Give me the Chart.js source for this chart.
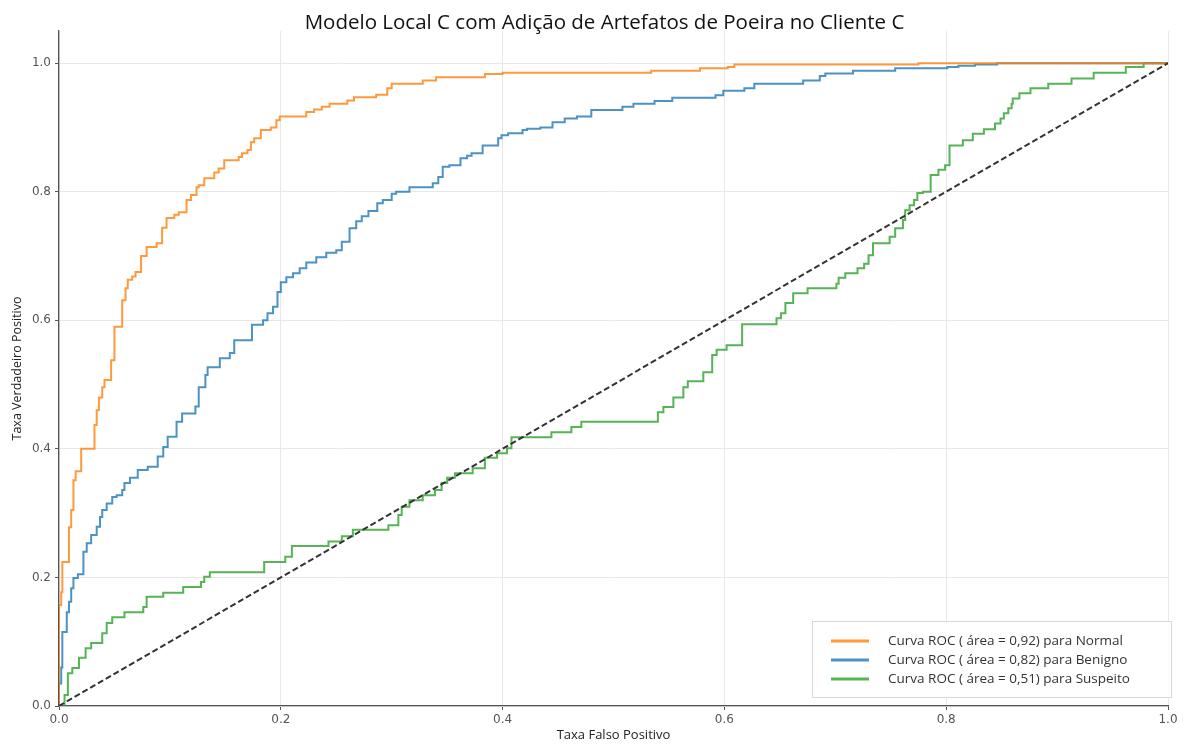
<!DOCTYPE html>
<html lang="pt">
<head>
    <meta charset="UTF-8">
    <title>Curvas ROC - Modelo Local C</title>
    <script src="https://cdn.jsdelivr.net/npm/chart.js"></script>
    <style>
        html, body { margin: 0; padding: 0; background: #fff; }
        #wrap { width: 1188px; height: 745px; }
    </style>
</head>
<body>
<div id="wrap"><canvas id="rocChart" width="1188" height="745"></canvas></div>

<script>
    const chartTitle = 'Modelo Local C com Adição de Artefatos de Poeira no Cliente C';
    const xTitle = 'Taxa Falso Positivo';
    const yTitle = 'Taxa Verdadeiro Positivo';
    const tickValues = [0, 0.2, 0.4, 0.6, 0.8, 1.0];

    const seriesLabels = [
        'Curva ROC ( área = 0,92) para Normal',
        'Curva ROC ( área = 0,82) para Benigno',
        'Curva ROC ( área = 0,51) para Suspeito'
    ];

    // pontos (fpr, tpr) onde cada degrau sobe
    const normalFpr = [0, 0, 0.002, 0.003, 0.009, 0.011, 0.013, 0.015, 0.020, 0.032, 0.034, 0.036, 0.039, 0.041, 0.047, 0.050, 0.057, 0.060, 0.062, 0.066, 0.069, 0.074, 0.079, 0.088, 0.093, 0.097, 0.104, 0.108, 0.115, 0.119, 0.124, 0.126, 0.131, 0.140, 0.144, 0.149, 0.162, 0.165, 0.170, 0.173, 0.176, 0.182, 0.191, 0.196, 0.199, 0.223, 0.230, 0.237, 0.244, 0.260, 0.266, 0.286, 0.296, 0.300, 0.328, 0.340, 0.384, 0.400, 0.534, 0.578, 0.603, 0.609, 0.775, 1];
    const normalTpr = [0, 0.157, 0.177, 0.224, 0.278, 0.305, 0.351, 0.365, 0.400, 0.437, 0.460, 0.480, 0.496, 0.507, 0.538, 0.590, 0.631, 0.650, 0.663, 0.668, 0.675, 0.700, 0.714, 0.720, 0.744, 0.759, 0.764, 0.768, 0.787, 0.795, 0.807, 0.810, 0.821, 0.830, 0.836, 0.849, 0.854, 0.860, 0.865, 0.877, 0.883, 0.896, 0.900, 0.911, 0.917, 0.924, 0.928, 0.932, 0.937, 0.942, 0.947, 0.951, 0.961, 0.968, 0.973, 0.978, 0.983, 0.985, 0.988, 0.992, 0.994, 0.998, 1.0, 1.0];

    const benignoFpr = [0, 0, 0.002, 0.003, 0.007, 0.009, 0.011, 0.013, 0.017, 0.022, 0.025, 0.029, 0.034, 0.037, 0.039, 0.043, 0.048, 0.052, 0.057, 0.059, 0.064, 0.071, 0.080, 0.089, 0.094, 0.098, 0.106, 0.111, 0.123, 0.126, 0.132, 0.134, 0.145, 0.154, 0.158, 0.174, 0.184, 0.188, 0.193, 0.197, 0.200, 0.205, 0.211, 0.217, 0.223, 0.232, 0.241, 0.250, 0.255, 0.262, 0.268, 0.273, 0.279, 0.287, 0.292, 0.300, 0.304, 0.316, 0.337, 0.342, 0.346, 0.352, 0.362, 0.368, 0.372, 0.382, 0.396, 0.399, 0.405, 0.418, 0.422, 0.434, 0.445, 0.456, 0.467, 0.480, 0.508, 0.518, 0.537, 0.553, 0.592, 0.599, 0.618, 0.627, 0.671, 0.686, 0.691, 0.716, 0.754, 0.801, 0.811, 0.826, 0.846, 1];
    const benignoTpr = [0, 0.035, 0.060, 0.115, 0.146, 0.162, 0.183, 0.199, 0.205, 0.240, 0.253, 0.266, 0.279, 0.294, 0.305, 0.315, 0.325, 0.328, 0.336, 0.347, 0.355, 0.367, 0.372, 0.388, 0.403, 0.419, 0.442, 0.455, 0.466, 0.496, 0.515, 0.527, 0.541, 0.549, 0.569, 0.593, 0.600, 0.611, 0.621, 0.644, 0.659, 0.667, 0.673, 0.681, 0.690, 0.698, 0.705, 0.709, 0.722, 0.743, 0.754, 0.762, 0.770, 0.782, 0.787, 0.797, 0.800, 0.807, 0.813, 0.823, 0.839, 0.841, 0.852, 0.856, 0.860, 0.872, 0.883, 0.888, 0.891, 0.896, 0.898, 0.900, 0.908, 0.914, 0.917, 0.927, 0.932, 0.937, 0.941, 0.946, 0.950, 0.957, 0.961, 0.968, 0.973, 0.980, 0.984, 0.988, 0.992, 0.994, 0.996, 0.998, 1.0, 1.0];

    const suspeitoFpr = [0, 0.005, 0.008, 0.012, 0.018, 0.024, 0.029, 0.039, 0.043, 0.048, 0.059, 0.076, 0.079, 0.094, 0.112, 0.128, 0.131, 0.136, 0.185, 0.204, 0.210, 0.243, 0.255, 0.265, 0.297, 0.306, 0.309, 0.316, 0.328, 0.339, 0.345, 0.350, 0.357, 0.373, 0.384, 0.395, 0.404, 0.408, 0.444, 0.462, 0.471, 0.540, 0.545, 0.554, 0.563, 0.567, 0.581, 0.589, 0.593, 0.602, 0.616, 0.647, 0.651, 0.655, 0.662, 0.675, 0.701, 0.703, 0.709, 0.720, 0.726, 0.730, 0.734, 0.749, 0.754, 0.761, 0.763, 0.767, 0.771, 0.774, 0.779, 0.786, 0.793, 0.799, 0.803, 0.815, 0.824, 0.834, 0.844, 0.849, 0.852, 0.856, 0.859, 0.860, 0.866, 0.876, 0.892, 0.913, 0.933, 0.962, 0.978, 1];
    const suspeitoTpr = [0, 0.017, 0.051, 0.059, 0.075, 0.090, 0.098, 0.113, 0.129, 0.138, 0.146, 0.154, 0.170, 0.176, 0.185, 0.193, 0.201, 0.208, 0.224, 0.232, 0.249, 0.256, 0.264, 0.274, 0.281, 0.297, 0.310, 0.320, 0.328, 0.336, 0.347, 0.355, 0.362, 0.370, 0.386, 0.393, 0.401, 0.418, 0.426, 0.434, 0.442, 0.457, 0.465, 0.480, 0.496, 0.505, 0.519, 0.546, 0.554, 0.561, 0.594, 0.603, 0.611, 0.627, 0.642, 0.650, 0.657, 0.666, 0.673, 0.681, 0.688, 0.701, 0.720, 0.730, 0.743, 0.756, 0.771, 0.779, 0.787, 0.798, 0.800, 0.826, 0.834, 0.841, 0.872, 0.880, 0.890, 0.897, 0.906, 0.914, 0.922, 0.930, 0.937, 0.945, 0.953, 0.961, 0.968, 0.976, 0.985, 0.994, 1.0, 1.0];

    const chanceX = [0, 1];
    const chanceY = [0, 1];

    const colors = ['rgba(255, 127, 14, 0.8)', 'rgba(31, 119, 180, 0.8)', 'rgba(44, 160, 44, 0.8)'];
    const labelFont = '"Open Sans", sans-serif';

    function toPoints(xs, ys) {
        return xs.map((x, i) => ({ x: x, y: ys[i] }));
    }

    function rocDataset(i, xs, ys) {
        return {
            label: seriesLabels[i],
            data: toPoints(xs, ys),
            showLine: true,
            stepped: 'before',
            borderColor: colors[i],
            backgroundColor: colors[i],
            borderWidth: 2,
            pointRadius: 0,
            order: i + 1
        };
    }

    // titulo e legenda desenhados a mao, como no matplotlib
    const extrasPlugin = {
        id: 'extras',
        afterDraw(chart) {
            const ctx = chart.ctx;
            const area = chart.chartArea;
            ctx.save();
            ctx.fillStyle = '#111';
            ctx.font = '20.5px ' + labelFont;
            ctx.textAlign = 'center';
            ctx.textBaseline = 'alphabetic';
            ctx.fillText(chartTitle, (area.left + area.right) / 2 - 9, 29);

            const boxW = 359, boxH = 76;
            const bx = area.right + 3 - boxW;
            const by = area.bottom - 9 - boxH;
            ctx.fillStyle = 'rgba(255,255,255,0.85)';
            ctx.fillRect(bx, by, boxW, boxH);
            ctx.strokeStyle = '#d8d8d8';
            ctx.lineWidth = 1;
            ctx.strokeRect(bx + 0.5, by + 0.5, boxW, boxH);

            ctx.font = '13.5px ' + labelFont;
            ctx.textAlign = 'left';
            ctx.textBaseline = 'middle';
            seriesLabels.forEach((lab, i) => {
                const ly = by + 20 + i * 19;
                ctx.strokeStyle = colors[i];
                ctx.lineWidth = 3;
                ctx.beginPath();
                ctx.moveTo(bx + 19, ly);
                ctx.lineTo(bx + 57, ly);
                ctx.stroke();
                ctx.fillStyle = '#333';
                ctx.fillText(lab, bx + 76, ly);
            });
            ctx.restore();
        }
    };

    const ctxRoc = document.getElementById('rocChart').getContext('2d');

    new Chart(ctxRoc, {
        type: 'scatter',
        data: {
            datasets: [
                rocDataset(0, normalFpr, normalTpr),
                rocDataset(1, benignoFpr, benignoTpr),
                rocDataset(2, suspeitoFpr, suspeitoTpr),
                {
                    label: 'chance',
                    data: toPoints(chanceX, chanceY),
                    showLine: true,
                    borderColor: '#333',
                    borderWidth: 2,
                    borderDash: [6, 3],
                    pointRadius: 0,
                    order: 0
                }
            ]
        },
        options: {
            responsive: false,
            animation: false,
            layout: { padding: { left: 10, right: 20, top: 31, bottom: 0 } },
            plugins: {
                legend: { display: false },
                title: { display: false },
                tooltip: { enabled: false }
            },
            scales: {
                x: {
                    type: 'linear',
                    min: 0,
                    max: 1,
                    afterBuildTicks: scale => { scale.ticks = tickValues.map(v => ({ value: v })); },
                    afterFit: scale => { scale.height = 39; },
                    ticks: {
                        callback: v => v.toFixed(1),
                        color: '#555',
                        font: { family: 'DejaVu Sans', size: 12 },
                        padding: 3,
                        maxRotation: 0
                    },
                    grid: { color: '#e8e8e8', tickColor: '#555', tickLength: 4, lineWidth: 1 },
                    border: { display: true, color: '#555', width: 1.3 },
                    title: {
                        display: true,
                        text: xTitle,
                        color: '#222',
                        font: { family: labelFont, size: 13 },
                        padding: { top: 0, bottom: 2 }
                    }
                },
                y: {
                    type: 'linear',
                    min: 0,
                    max: 1.05,
                    afterBuildTicks: scale => { scale.ticks = tickValues.map(v => ({ value: v })); },
                    afterFit: scale => { scale.width = 49; },
                    ticks: {
                        callback: v => v.toFixed(1),
                        color: '#555',
                        font: { family: 'DejaVu Sans', size: 12 },
                        padding: 4
                    },
                    grid: { color: '#e8e8e8', tickColor: '#555', tickLength: 4, lineWidth: 1 },
                    border: { display: true, color: '#555', width: 1.3 },
                    title: {
                        display: true,
                        text: yTitle,
                        color: '#222',
                        font: { family: labelFont, size: 12.5 },
                        padding: { top: 0, bottom: 4 }
                    }
                }
            }
        },
        plugins: [extrasPlugin]
    });
</script>
</body>
</html>
